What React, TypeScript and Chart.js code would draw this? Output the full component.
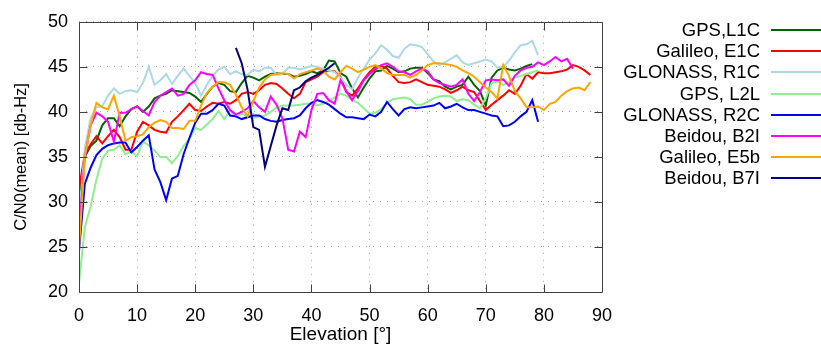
import React, { useEffect, useRef } from "react";
import { Chart, registerables } from "chart.js";

Chart.register(...registerables);

// Elevation (deg) starts for each series; values are per 1° step
const seriesLabels = ["GPS,L1C", "Galileo, E1C", "GLONASS, R1C", "GPS, L2L", "GLONASS, R2C", "Beidou, B2I", "Galileo, E5b", "Beidou, B7I"];
const seriesColors = ["#006400", "#ff0000", "#add8e6", "#90ee90", "#0000ff", "#ff00ff", "#ffa500", "#000080"];
const seriesStart = [0, 0, 0, 0, 0, 0, 0, 27];

const gpsL1C = [30.8, 35, 36.2, 36.8, 38.5, 39.3, 39.3, 38.4, 39.5, 40.3, 40.6, 40, 40.6, 41.5, 41.8, 42, 42.4, 42.3, 42.2, 42.1, 41.7, 41.1, 42, 42.8, 43.2, 43, 42.3, 42.2, 43.2, 44, 43.8, 43.5, 43.9, 44.2, 44.3, 44.2, 44.2, 43.9, 44, 44.2, 44.5, 44.3, 44.6, 45.7, 45.6, 44.3, 43.9, 42.6, 41.6, 42.7, 43.7, 44.5, 44.6, 45.1, 44.8, 44.4, 44.5, 44.8, 44.9, 44.9, 44.3, 43.6, 43.4, 42.8, 42.5, 42.8, 43, 43.9, 43, 42.3, 40.7, 43.8, 44.6, 44.9, 44.7, 44.6, 44.8, 45.1, 45.3];
const galileoE1C = [31.5, 35.3, 36.4, 37.3, 36.5, 37.3, 38, 37.2, 35.8, 35.8, 37.8, 38.9, 38.5, 38, 37.8, 37.7, 38.9, 39.5, 40.2, 40.9, 40.2, 40.1, 40.6, 41, 40.9, 41.1, 40.9, 41.3, 42, 42.2, 42, 42.4, 43, 43.2, 43.1, 42.6, 42, 41.5, 42, 43.3, 43.6, 43.9, 44.4, 44.6, 44.5, 43.9, 42.2, 41.8, 42.6, 43.6, 44.4, 45, 45.1, 44.8, 44, 43.3, 43.2, 43.3, 43.6, 43.3, 43, 42.9, 42.8, 42.5, 42.1, 42.4, 42.8, 42.4, 42.2, 41.2, 40.2, 40.8, 41.3, 41.8, 42.4, 42, 42.9, 44.2, 43.7, 44.4, 44.3, 44.3, 44.4, 44.5, 44.7, 45.2, 45, 44.6, 44.1];
const glonassR1C = [28, 36, 39.3, 40.5, 40.6, 41.8, 42.6, 42, 42.3, 42.4, 42.2, 43.2, 45, 43, 43.5, 44.2, 43.1, 44, 44.8, 44, 43.2, 41.8, 43, 44, 44.7, 45, 44.2, 44.5, 44.2, 44.1, 44.7, 44.5, 44.9, 44.9, 44.1, 44.2, 44.9, 44.9, 44.7, 44.9, 45.1, 45, 44.8, 44.6, 44.4, 43.8, 43, 42.5, 43.8, 44.8, 45.8, 46.5, 47.4, 46.9, 46.2, 46, 47, 47.5, 47.4, 47.2, 46.4, 45.6, 45.2, 45.5, 45.9, 46.3, 45.5, 45.2, 45.4, 45.6, 45.8, 45.6, 44.9, 45, 45.7, 46.6, 47.4, 47.5, 47.9, 46.3];
const gpsL2L = [21, 27.2, 29.5, 32.5, 34.8, 35.7, 35.8, 36.3, 35.3, 35.6, 35.1, 36.7, 36.3, 35.7, 35, 35, 34.3, 35.1, 36.2, 37, 38.2, 38, 38.6, 39.2, 40.1, 39.2, 40.2, 39.4, 39.8, 39.5, 39.3, 39.5, 39.6, 40, 40.5, 40.7, 40.7, 40.7, 40.8, 40.9, 40.9, 40.7, 40.9, 41.2, 41.6, 42, 41.8, 41.3, 41, 40.4, 39.8, 39.9, 40.3, 41, 41.4, 41.5, 41.6, 41.4, 40.8, 40.8, 41.1, 41.5, 41.7, 41.8, 41.7, 41.2, 41.4, 41.3, 40.8, 40.4, 41.5, 43.2, 43.4, 43, 43.3, 43.8, 44, 44.2, 44.4, 44.6];
const glonassR2C = [24.5, 32, 33.8, 35.2, 35.9, 36.3, 36.5, 36.6, 36.6, 35.5, 36.1, 36.8, 37.4, 33.6, 32.2, 30.2, 32.6, 32.9, 35.3, 37.1, 38.8, 39.8, 39.8, 40.2, 40.9, 40.7, 39.6, 39.5, 39.2, 39.4, 39.6, 39.6, 39.2, 39, 38.9, 39.1, 39.2, 39.3, 39.6, 40.4, 41, 41.3, 41.1, 40.8, 40.3, 39.8, 39.4, 39.4, 39.3, 39.2, 39.7, 39.5, 40, 41.1, 40.3, 39.6, 40.3, 40.5, 40.4, 40.5, 40.6, 40.7, 41, 40.4, 40.6, 40.9, 40.5, 40.2, 40.2, 40, 39.8, 39.6, 39.5, 38.4, 38.5, 38.9, 39.5, 40, 41.3, 38.9];
const beidouB2I = [26.5, 35, 38.5, 39.9, 39.5, 38.9, 36.7, 39.9, 39.9, 40.3, 40.6, 40.1, 39.6, 41.1, 41.8, 42.2, 42.6, 41.8, 42, 43, 43.5, 44.4, 44.2, 44.1, 42.6, 41.3, 40.2, 39.7, 40, 40.4, 41.2, 40.5, 40, 41.7, 40.8, 39.3, 35.8, 35.6, 37.8, 37.2, 40.2, 42, 42.1, 41.3, 40.9, 43.5, 42.3, 41.3, 42.3, 43.5, 44.2, 44.7, 45.2, 45.4, 45, 44.5, 44.4, 44.1, 44.5, 44.8, 44.5, 43.6, 43.2, 43, 42.8, 43, 43.6, 42, 41.2, 42.2, 43.5, 43.6, 43.5, 43.6, 42.9, 44, 44.6, 44.9, 45, 45.5, 45.2, 45.6, 46.1, 45.6, 45.9, 44.8];
const galileoE5b = [24.8, 35, 38.5, 41, 40.5, 40.3, 41.8, 39.5, 36.8, 37.2, 37.3, 37.5, 38.3, 38.8, 39.1, 38.9, 38.2, 38.2, 38.1, 39, 39, 40.7, 42.1, 42.8, 43.3, 43.3, 43, 41.9, 40.5, 39.5, 41.2, 42.7, 43.6, 44.1, 44.2, 44.3, 44.2, 43.7, 44.2, 44.4, 44.6, 44.8, 44.6, 43.9, 43.6, 44.4, 45.1, 44.8, 44.4, 44.7, 45, 45.2, 44.8, 44.3, 44.1, 44.1, 44.1, 43.8, 44.1, 44.6, 45.2, 45.4, 45.4, 45.3, 45.2, 45, 44.6, 44.3, 43.9, 43.3, 42.7, 42.2, 41.5, 45.2, 44, 42.3, 41.5, 40.5, 40.5, 40.6, 40.2, 40.9, 41.1, 41.8, 42.3, 42.6, 42.7, 42.4, 43.3];
const beidouB7I = [47.1, 45.4, 42.5, 38.3, 38, 33.9, 36.2, 38.5, 40.4, 40.2, 42.4, 42.7, 43.4, 43.8, 44.1, 44.5, 44.9, 45.4];

const seriesValues = [gpsL1C, galileoE1C, glonassR1C, gpsL2L, glonassR2C, beidouB2I, galileoE5b, beidouB7I];

const xTicksMin = 0, xTicksMax = 90, xTickStep = 10;
const yTicksMin = 20, yTicksMax = 50, yTickStep = 5;
const xTitle = "Elevation [°]";
const yTitle = "C/N0(mean) [db-Hz]";

const FONT = "'Liberation Sans', Arial, sans-serif";

const framePlugin = {
  id: "frame",
  afterDatasetsDraw(chart: any) {
    const { ctx, chartArea: a, scales } = chart;
    ctx.save();
    ctx.strokeStyle = "#404040";
    ctx.lineWidth = 1;
    ctx.setLineDash([]);
    ctx.beginPath();
    const L = Math.round(a.left) + 0.5, R = Math.round(a.right) + 0.5, T = Math.round(a.top) + 0.5, B = Math.round(a.bottom) + 0.5;
    ctx.rect(L, T, R - L, B - T);
    const tl = 8;
    for (let v = xTicksMin + xTickStep; v < xTicksMax; v += xTickStep) {
      const x = Math.round(scales.x.getPixelForValue(v)) + 0.5;
      ctx.moveTo(x, B); ctx.lineTo(x, B - tl);
      ctx.moveTo(x, T); ctx.lineTo(x, T + tl);
    }
    for (let v = yTicksMin + yTickStep; v < yTicksMax; v += yTickStep) {
      const y = Math.round(scales.y.getPixelForValue(v)) + 0.5;
      ctx.moveTo(L, y); ctx.lineTo(L + tl, y);
      ctx.moveTo(R, y); ctx.lineTo(R - tl, y);
    }
    ctx.stroke();
    ctx.restore();
  },
  afterDraw(chart: any) {
    const { ctx } = chart;
    ctx.save();
    ctx.font = `18.5px ${FONT}`;
    ctx.textAlign = "right";
    ctx.textBaseline = "middle";
    const textRight = 760;
    const lineL = 771, lineR = 821;
    const y0 = 30, dy = 21.2;
    chart.data.datasets.forEach((ds: any, i: number) => {
      const y = Math.round(y0 + i * dy);
      ctx.fillStyle = "#000";
      ctx.fillText(ds.label, textRight, y + 1);
      ctx.strokeStyle = ds.borderColor;
      ctx.lineWidth = 2;
      ctx.beginPath();
      ctx.moveTo(lineL, y);
      ctx.lineTo(lineR, y);
      ctx.stroke();
    });
    ctx.restore();
  },
};

export default function App() {
  const ref = useRef<HTMLCanvasElement>(null);
  useEffect(() => {
    if (!ref.current) return;
    const n = seriesLabels.length;
    const chart = new Chart(ref.current, {
      type: "line",
      data: {
        datasets: seriesLabels.map((label, i) => ({
          label,
          data: seriesValues[i].map((v, k) => ({ x: seriesStart[i] + k, y: v })),
          borderColor: seriesColors[i],
          backgroundColor: seriesColors[i],
          borderWidth: 2,
          pointRadius: 0,
          tension: 0,
          fill: false,
          order: n - i,
        })),
      },
      options: {
        animation: false,
        responsive: false,
        devicePixelRatio: 1,
        layout: { padding: { top: 19, right: 219, left: 0, bottom: 0 } },
        plugins: { legend: { display: false }, tooltip: { enabled: false } },
        scales: {
          x: {
            type: "linear",
            min: xTicksMin,
            max: xTicksMax,
            ticks: { stepSize: xTickStep, color: "#000", font: { family: FONT, size: 18 }, padding: 13 },
            grid: { color: "#a0a0a0", lineWidth: 1, drawTicks: false },
            border: { display: false, dash: [1, 6] },
            title: { display: true, text: xTitle, color: "#000", font: { family: FONT, size: 19 }, padding: { top: 0, bottom: -2 } },
            afterFit: (s: any) => { s.height = 52; },
          },
          y: {
            type: "linear",
            min: yTicksMin,
            max: yTicksMax,
            ticks: { stepSize: yTickStep, color: "#000", font: { family: FONT, size: 18 }, padding: 11 },
            grid: { color: "#a0a0a0", lineWidth: 1, drawTicks: false },
            border: { display: false, dash: [1, 6] },
            title: { display: true, text: yTitle, color: "#000", font: { family: FONT, size: 16.5 }, padding: { top: 12, bottom: 0 } },
            afterFit: (s: any) => { s.width = 79; },
          },
        },
      },
      plugins: [framePlugin],
    });
    return () => chart.destroy();
  }, []);
  return (
    <div style={{ position: "absolute", left: 0, top: 0, width: 821, height: 344, background: "#fff" }}>
      <canvas ref={ref} width={821} height={344} />
    </div>
  );
}
